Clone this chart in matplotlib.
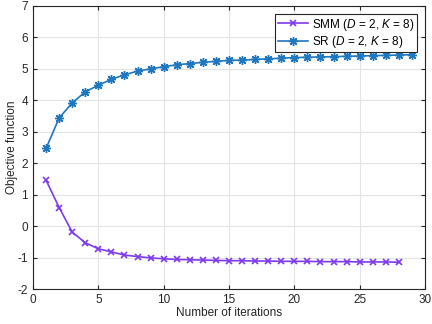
import matplotlib
matplotlib.use("Agg")
import matplotlib.pyplot as plt

plt.rcParams['font.family'] = ['Liberation Sans', 'DejaVu Sans']
plt.rcParams['mathtext.fontset'] = 'custom'
plt.rcParams['mathtext.rm'] = 'Liberation Sans'
plt.rcParams['mathtext.it'] = 'Liberation Sans:italic'
plt.rcParams['axes.unicode_minus'] = False

iters_smm = list(range(1, 29))
smm = [1.46, 0.59, -0.19, -0.53, -0.72, -0.82, -0.92, -0.97, -1.01, -1.04,
       -1.06, -1.07, -1.08, -1.09, -1.10, -1.10, -1.11, -1.11, -1.12, -1.12,
       -1.12, -1.13, -1.13, -1.13, -1.14, -1.14, -1.14, -1.15]
iters_sr = list(range(1, 30))
sr = [2.47, 3.44, 3.92, 4.27, 4.48, 4.67, 4.81, 4.93, 5.00, 5.07,
      5.13, 5.17, 5.21, 5.24, 5.27, 5.28, 5.30, 5.32, 5.34, 5.36,
      5.37, 5.38, 5.39, 5.40, 5.41, 5.42, 5.43, 5.44, 5.45]

labels = [r'SMM ($D$ = 2, $K$ = 8)', r'SR ($D$ = 2, $K$ = 8)']

fig = plt.figure(figsize=(4.32, 3.24), dpi=100)
ax = fig.add_axes([33/432, 1-289/324, (425-33)/432, (289-6)/324])

ax.plot(iters_smm, smm, color='#7E3BEA', marker='x', markersize=4, linewidth=1.2,
        markeredgewidth=1.2, label=labels[0])
ax.plot(iters_sr, sr, color='#1F77C0', marker=(8, 2, 0), markersize=6.5, linewidth=1.2,
        markeredgewidth=1.0, label=labels[1])

ax.set_xlim(0, 30)
ax.set_ylim(-2, 7)
ax.set_xticks(range(0, 31, 5))
ax.set_yticks(range(-2, 8))
ax.grid(True, color='#E3E3E3', linewidth=0.8)
ax.set_axisbelow(True)
ax.tick_params(direction='in', labelsize=8.5, length=3, top=True, right=True,
               colors='#262626', labelcolor='#262626')
for s in ax.spines.values():
    s.set_color('#262626')
    s.set_linewidth(0.8)
ax.set_xlabel('Number of iterations', fontsize=8.5, color='#262626', labelpad=1)
ax.set_ylabel('Objective function', fontsize=8.5, color='#262626', labelpad=0)

leg = ax.legend(loc='upper right', fontsize=8.5, fancybox=False, framealpha=1,
                edgecolor='#262626', borderpad=0.2, handlelength=2.6,
                handletextpad=0.3, labelspacing=0.1, borderaxespad=0.7)
leg.get_frame().set_linewidth(0.8)

fig.savefig('out.png', dpi=100)
